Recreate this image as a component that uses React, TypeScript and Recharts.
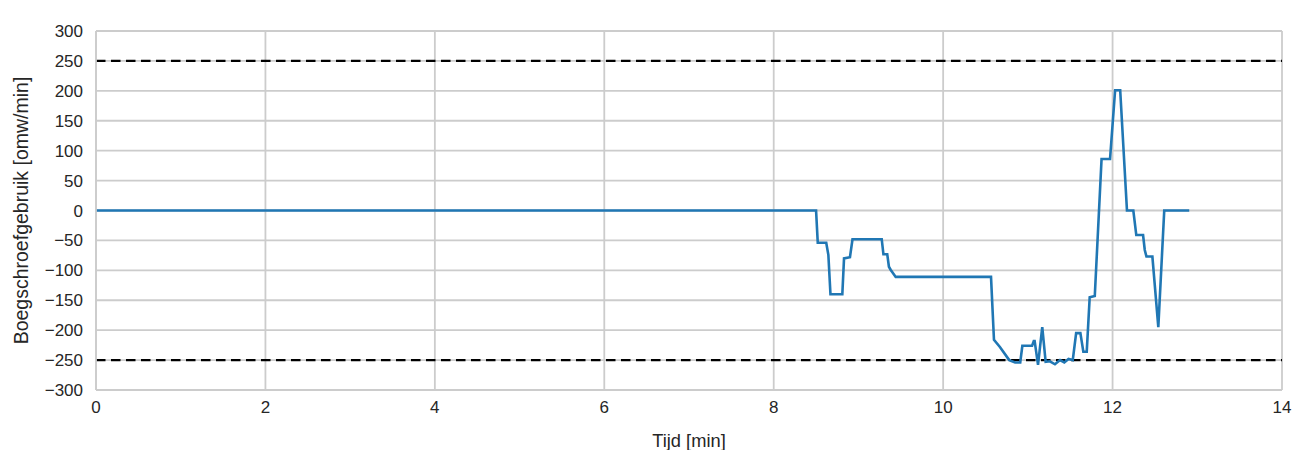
import {
  CartesianGrid,
  Line,
  LineChart,
  ReferenceLine,
  XAxis,
  YAxis,
} from 'recharts';

const FONT = '"Liberation Sans", Arial, sans-serif';
const TEXT = '#262626';
const GRID = '#cccccc';

// tijd in minuten, boegschroef in omw/min
const times = [
  0, 8.5, 8.52, 8.62, 8.645, 8.67, 8.81, 8.83, 8.9, 8.93, 9.275, 9.295, 9.34, 9.36, 9.38, 9.44,
  10.565, 10.6, 10.67, 10.78, 10.85, 10.91, 10.935, 11.05, 11.07, 11.08, 11.12, 11.17, 11.21,
  11.26, 11.32, 11.38, 11.43, 11.48, 11.53, 11.57, 11.62, 11.655, 11.695, 11.73, 11.79, 11.87,
  11.97, 12.03, 12.09, 12.17, 12.245, 12.28, 12.36, 12.38, 12.4, 12.47, 12.54, 12.61, 12.905,
];
const rpm = [
  0, 0, -54, -54, -74, -140, -140, -80, -78, -48, -48, -73, -73, -94, -99, -111,
  -111, -216, -228, -250, -254, -254, -226, -226, -218, -218, -258, -195, -253,
  -252, -257, -250, -254, -248, -250, -205, -205, -236, -236, -145, -143, 86,
  86, 201, 201, 0, 0, -41, -41, -66, -77, -77, -195, 0, 0,
];
const xTicks = [0, 2, 4, 6, 8, 10, 12, 14];
const yTicks = [-300, -250, -200, -150, -100, -50, 0, 50, 100, 150, 200, 250, 300];
const limits = [250, -250];

const data = times.map((t, i) => ({ t, v: rpm[i] }));

export default function App() {
  const tick = { fontSize: 17, fill: TEXT, fontFamily: FONT };
  return (
    <div style={{ position: 'absolute', left: 0, top: 0, background: '#fff' }}>
      <LineChart
        width={1302}
        height={450}
        data={data}
        margin={{ top: 31, right: 20, bottom: 0, left: 0 }}
      >
        <CartesianGrid stroke={GRID} strokeWidth={1.8} />
        <XAxis
          dataKey="t"
          type="number"
          domain={[0, 14]}
          ticks={xTicks}
          height={60}
          tickLine={false}
          tickSize={0}
          tickMargin={11}
          axisLine={{ stroke: GRID, strokeWidth: 1.8 }}
          tick={tick}
          label={{
            value: 'Tijd [min]',
            position: 'insideBottom',
            offset: 3,
            style: { fontSize: 18.3, fill: TEXT, fontFamily: FONT },
          }}
        />
        <YAxis
          type="number"
          domain={[-300, 300]}
          ticks={yTicks}
          width={96}
          tickLine={false}
          tickSize={0}
          tickMargin={13}
          axisLine={{ stroke: GRID, strokeWidth: 1.8 }}
          tick={tick}
          tickFormatter={(v: number) => (v < 0 ? `\u2212${Math.abs(v)}` : String(v))}
          label={{
            value: 'Boegschroefgebruik [omw/min]',
            angle: -90,
            position: 'insideLeft',
            offset: 21,
            style: { fontSize: 19.5, fill: TEXT, fontFamily: FONT, textAnchor: 'middle' },
          }}
        />
        {limits.map((y) => (
          <ReferenceLine key={y} y={y} stroke="#000" strokeWidth={2.4} strokeDasharray="9.5 5.5" />
        ))}
        <Line
          type="linear"
          dataKey="v"
          stroke="#2077b4"
          strokeWidth={2.6}
          dot={false}
          isAnimationActive={false}
        />
      </LineChart>
    </div>
  );
}
